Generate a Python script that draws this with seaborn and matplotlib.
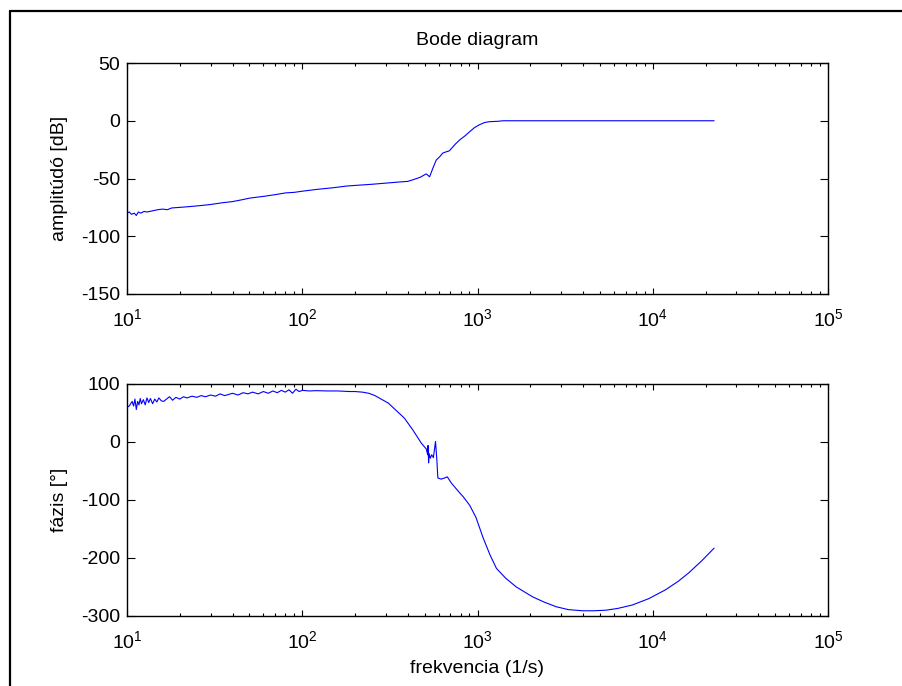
import numpy as np
import pandas as pd
import matplotlib
matplotlib.use("Agg")
import matplotlib.pyplot as plt
from matplotlib.lines import Line2D
from matplotlib.ticker import LogLocator, NullFormatter
import seaborn as sns

# ---------------- data ----------------
amp_freq = [10, 10.3, 10.6, 11, 11.3, 11.6, 12, 12.5, 13, 14, 15, 16, 17, 18, 20, 22, 24, 26,
            28, 30, 35, 40, 45, 50, 60, 70, 80, 90, 100, 120, 150, 180, 200, 250, 300, 360,
            400, 430, 470, 510, 533, 560, 582, 610, 633, 660, 692, 710, 750, 800, 850, 902,
            960, 1024, 1100, 1170, 1300, 1400, 2000, 5000, 10000, 22400]
amp_db = [-80, -79, -81, -80, -82, -79, -80, -78.5, -79, -78, -77, -76.5, -77, -75.5, -75, -74.5,
          -74, -73.5, -73, -72.5, -71, -70, -68.5, -67, -65.5, -64, -62.5, -62, -61, -59.5, -58,
          -56.5, -56, -55, -54, -53, -52.5, -51, -49, -46, -48.5, -40, -34, -31, -28, -27, -26,
          -24, -20, -16, -13, -9.5, -6, -3.5, -1.5, -0.8, -0.5, 0, 0, 0, 0, 0]

ph_freq = [10, 10.3, 10.5, 10.7, 10.9, 11.1, 11.3, 11.5, 11.7, 11.9, 12.1, 12.4, 12.7, 13, 13.3,
           13.6, 14, 14.4, 14.8, 15.2, 15.7, 16.2, 16.8, 17.5, 18.2, 19, 20, 21, 22, 23.5, 25,
           26.5, 28, 30, 32, 34, 36, 38, 40, 43, 46, 49, 52, 56, 60, 64, 68, 72, 76, 80, 84, 88,
           92, 96, 100, 110, 120, 140, 160, 186, 200, 220, 240, 260, 310, 383, 427, 478, 510,
           520, 522, 526, 530, 538, 548, 560, 576, 586, 594, 620, 650, 672, 710, 793, 827, 902,
           980, 1076, 1180, 1283, 1450, 1666, 2064, 2400, 2809, 3300, 3980, 4600, 5400, 6300,
           7650, 9500, 11800, 14000, 16000, 19000, 22400]
ph_deg = [60, 62, 66, 70, 62, 74, 56, 70, 64, 75, 66, 73, 64, 76, 68, 75, 66, 74, 69, 76, 71, 70,
          74, 78, 72, 77, 74, 78, 76, 79, 77, 80, 78, 81, 79, 83, 80, 82, 84, 81, 85, 83, 86, 83,
          87, 84, 88, 85, 89, 86, 90, 84, 91, 87, 89, 88, 88.5, 88, 88, 87, 87, 86, 84, 80, 67,
          41, 21, -2, -12, -22, -6, -36, -20, -28, -22, -27, 1, -30, -62, -64, -62, -60, -71,
          -88, -94, -109, -130, -165, -195, -218, -235, -250, -267, -276, -284, -289, -291, -291,
          -290, -287, -281, -270, -255, -240, -226, -205, -183]

amp_yticks = [-150, -100, -50, 0, 50]
ph_yticks = [-300, -200, -100, 0, 100]
title_text = "Bode diagram"
amp_label = "amplitúdó [dB]"
ph_label = "fázis [°]"
x_label = "frekvencia (1/s)"

df_amp = pd.DataFrame({"f": amp_freq, "v": amp_db})
df_ph = pd.DataFrame({"f": ph_freq, "v": ph_deg})

# ---------------- style ----------------
sns.set_style("ticks")
plt.rcParams["font.family"] = ["Liberation Sans", "DejaVu Sans"]
plt.rcParams["mathtext.fontset"] = "custom"
plt.rcParams["mathtext.rm"] = "Liberation Sans"
plt.rcParams["mathtext.it"] = "Liberation Sans"
plt.rcParams["mathtext.default"] = "regular"
plt.rcParams["axes.unicode_minus"] = False
plt.rcParams["text.color"] = "black"
plt.rcParams["axes.labelcolor"] = "black"

FS = 14

W, H = 902, 686
fig = plt.figure(figsize=(W / 100, H / 100), dpi=100)
fig.patch.set_facecolor("white")

def frac(l, t, r, b):
    return [l / W, 1 - b / H, (r - l) / W, (b - t) / H]

ax1 = fig.add_axes(frac(127, 63, 828, 294))
ax2 = fig.add_axes(frac(127, 384, 828, 616))

for ax, df, yt in [(ax1, df_amp, amp_yticks), (ax2, df_ph, ph_yticks)]:
    sns.lineplot(data=df, x="f", y="v", ax=ax, color="#0000ff", linewidth=0.8,
                 sort=False, estimator=None)
    ax.set_xscale("log")
    ax.set_xlim(10, 1e5)
    ax.set_ylim(yt[0], yt[-1])
    ax.set_yticks(yt)
    ax.xaxis.set_major_locator(LogLocator(base=10, numticks=10))
    ax.xaxis.set_minor_locator(LogLocator(base=10, subs=np.arange(2, 10), numticks=100))
    ax.xaxis.set_minor_formatter(NullFormatter())
    ax.tick_params(axis="both", which="both", direction="in", top=True, right=True,
                   colors="black", labelcolor="black", labelsize=FS)
    ax.tick_params(axis="y", which="major", length=6, width=0.8, pad=5)
    ax.tick_params(axis="x", which="major", length=4, width=0.8, pad=10)
    ax.tick_params(axis="x", which="minor", length=2.5, width=0.8)
    for s in ax.spines.values():
        s.set_visible(True)
        s.set_linewidth(1.0)
        s.set_color("black")
    ax.set_xlabel("")

ax1.set_ylabel(amp_label, fontsize=FS, labelpad=9)
ax2.set_ylabel(ph_label, fontsize=FS, labelpad=9)
ax1.set_title(title_text, fontsize=FS, pad=13, color="black")
ax2.set_xlabel(x_label, fontsize=FS, labelpad=6)

# outer frame (left and top edges)
fig.add_artist(Line2D([9.5 / W, 9.5 / W], [0, 1 - 11 / H], color="black", linewidth=1.6,
                      transform=fig.transFigure))
fig.add_artist(Line2D([9.5 / W, 1], [1 - 11 / H, 1 - 11 / H], color="black", linewidth=1.6,
                      transform=fig.transFigure))

fig.savefig("out.png", dpi=100, facecolor="white")
